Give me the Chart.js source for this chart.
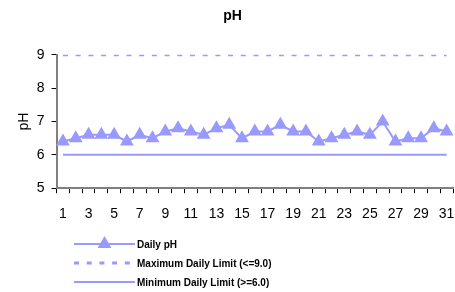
<!DOCTYPE html>
<html lang="en">
<head>
<meta charset="utf-8">
<title>pH</title>
<script src="https://cdn.jsdelivr.net/npm/chart.js@4.4.0/dist/chart.umd.min.js"></script>
<style>
  html, body { margin: 0; padding: 0; background: #fff; }
</style>
</head>
<body>
<canvas id="ph-chart" width="455" height="292"></canvas>
<script>
// days of the month
const days = ['1','2','3','4','5','6','7','8','9','10','11','12','13','14','15','16',
              '17','18','19','20','21','22','23','24','25','26','27','28','29','30','31'];
// daily pH readings
const dailyPH = [6.4, 6.5, 6.6, 6.6, 6.6, 6.4, 6.6, 6.5, 6.7, 6.8, 6.7, 6.6, 6.8, 6.9, 6.5, 6.7,
                 6.7, 6.9, 6.7, 6.7, 6.4, 6.5, 6.6, 6.7, 6.6, 7.0, 6.4, 6.5, 6.5, 6.8, 6.7];
// permit limits
const maxLimit = [9,9,9,9,9,9,9,9,9,9,9,9,9,9,9,9,9,9,9,9,9,9,9,9,9,9,9,9,9,9,9];
const minLimit = [6,6,6,6,6,6,6,6,6,6,6,6,6,6,6,6,6,6,6,6,6,6,6,6,6,6,6,6,6,6,6];
const yTicks = [5, 6, 7, 8, 9];

const seriesColor = '#9999ff';
const fontName = '"Liberation Sans", Arial, sans-serif';

// legend stacked vertically under the axis, like the excel one
const phLegend = {
    id: 'phLegend',
    afterDraw(chart) {
        const ctx = chart.ctx;
        const x0 = 74, x1 = 135, tx = 137;
        let y = 244;
        chart.data.datasets.forEach(ds => {
            ctx.save();
            ctx.strokeStyle = ds.borderColor;
            ctx.lineWidth = ds.borderWidth;
            ctx.setLineDash(ds.borderDash || []);
            ctx.beginPath();
            ctx.moveTo(x0, y);
            ctx.lineTo(x1, y);
            ctx.stroke();
            ctx.setLineDash([]);
            if (ds.pointRadius) {
                ctx.fillStyle = ds.pointBackgroundColor;
                ctx.strokeStyle = ds.pointBackgroundColor;
                Chart.helpers.drawPoint(ctx, {
                    pointStyle: ds.pointStyle, radius: ds.pointRadius, rotation: 0, borderWidth: 1
                }, (x0 + x1) / 2, y);
            }
            ctx.fillStyle = '#000';
            ctx.font = 'bold 10px ' + fontName;
            ctx.textBaseline = 'middle';
            ctx.fillText(ds.label, tx, y + 1);
            ctx.restore();
            y += 19;
        });
    }
};

new Chart(document.getElementById('ph-chart'), {
    type: 'line',
    data: {
        labels: days,
        datasets: [{
            label: 'Daily pH',
            data: dailyPH,
            borderColor: seriesColor,
            borderWidth: 2,
            pointStyle: 'triangle',
            pointRadius: 6,
            pointBackgroundColor: seriesColor,
            pointBorderColor: seriesColor,
            tension: 0
        }, {
            label: 'Maximum Daily Limit (<=9.0)',
            data: maxLimit,
            borderColor: seriesColor,
            borderWidth: 3,
            borderDash: [5, 7.7],
            pointRadius: 0
        }, {
            label: 'Minimum Daily Limit (>=6.0)',
            data: minLimit,
            borderColor: seriesColor,
            borderWidth: 2,
            pointRadius: 0
        }]
    },
    options: {
        responsive: false,
        animation: false,
        layout: { autoPadding: false, padding: { left: 12, right: 2, top: 0, bottom: 56 } },
        plugins: {
            legend: { display: false },
            tooltip: { enabled: false },
            title: {
                display: true,
                text: 'pH',
                color: '#000',
                font: { family: fontName, size: 14, weight: 'bold' },
                padding: { top: 8, bottom: 30 }
            }
        },
        scales: {
            x: {
                offset: true,
                // labels sit inside their categories, no extra side padding needed
                afterFit: axis => { axis.paddingLeft = 0; axis.paddingRight = 0; },
                grid: { offset: true, drawOnChartArea: false, drawTicks: true, tickLength: 5, color: '#000' },
                border: { display: true, color: '#808080', width: 2 },
                ticks: {
                    autoSkip: false,
                    maxRotation: 0,
                    color: '#000',
                    padding: 13,
                    font: { family: fontName, size: 14 },
                    callback: (v, i) => (i % 2 === 0 ? days[i] : '')
                }
            },
            y: {
                min: 5,
                max: 9,
                afterBuildTicks: axis => { axis.ticks = yTicks.map(v => ({ value: v })); },
                grid: { drawOnChartArea: false, drawTicks: true, tickLength: 5, color: '#000' },
                border: { display: true, color: '#808080', width: 2 },
                ticks: { color: '#000', padding: 7, font: { family: fontName, size: 14 } },
                title: {
                    display: true,
                    text: 'pH',
                    color: '#000',
                    font: { family: fontName, size: 14 },
                    padding: { top: 4, bottom: -3 }
                }
            }
        }
    },
    plugins: [phLegend]
});
</script>
</body>
</html>
